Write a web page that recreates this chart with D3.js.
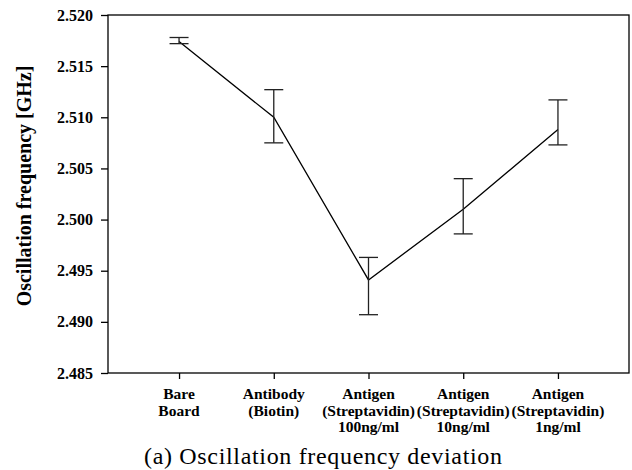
<!DOCTYPE html>
<html>
<head>
<meta charset="utf-8">
<script src="https://cdn.jsdelivr.net/npm/d3@7"></script>
<style>
html,body{margin:0;padding:0;background:#fff;}
svg{display:block;}
</style>
</head>
<body>
<svg id="chart" width="632" height="470"></svg>
<script>
// ---- data ----
const categories = [
  ["Bare", "Board"],
  ["Antibody", "(Biotin)"],
  ["Antigen", "(Streptavidin)", "100ng/ml"],
  ["Antigen", "(Streptavidin)", "10ng/ml"],
  ["Antigen", "(Streptavidin)", "1ng/ml"]
];
const means = [2.5174, 2.5100, 2.4941, 2.5010, 2.5088];
const upper = [2.5178, 2.5127, 2.4963, 2.5040, 2.5117];
const lower = [2.5172, 2.5075, 2.4907, 2.4986, 2.5073];
const yTicks = [2.485, 2.490, 2.495, 2.500, 2.505, 2.510, 2.515, 2.520];
const yTitle = "Oscillation frequency [GHz]";
const caption = "(a) Oscillation frequency deviation";

// ---- layout ----
const svg = d3.select("#chart");
const L = 108, R = 629, T = 15, B = 373;
const serif = "Liberation Serif";

const x = d3.scalePoint().domain(d3.range(categories.length)).range([L, R]).padding(0.75);
const y = d3.scaleLinear().domain([2.485, 2.520]).range([B, T]);

// frame
svg.append("rect").attr("x", L).attr("y", T).attr("width", R - L).attr("height", B - T)
  .attr("fill", "none").attr("stroke", "#000").attr("stroke-width", 1.3);

// y axis
const yAxis = svg.append("g").attr("transform", `translate(${L},0)`)
  .call(d3.axisLeft(y).tickValues(yTicks).tickFormat(d3.format(".3f")).tickSize(7).tickPadding(8));
yAxis.select(".domain").remove();
yAxis.selectAll(".tick line").attr("stroke", "#000").attr("stroke-width", 1.3);
yAxis.selectAll(".tick text").attr("font-family", serif).attr("font-weight", "bold")
  .attr("font-size", 16).attr("fill", "#000");

// x axis
const xAxis = svg.append("g").attr("transform", `translate(0,${B})`)
  .call(d3.axisBottom(x).tickSize(6).tickFormat(""));
xAxis.select(".domain").remove();
xAxis.selectAll(".tick line").attr("stroke", "#000").attr("stroke-width", 1.3);
xAxis.selectAll(".tick text").remove();

const labG = svg.append("g");
categories.forEach((lines, i) => {
  const t = labG.append("text").attr("text-anchor", "middle")
    .attr("font-family", serif).attr("font-weight", "bold").attr("font-size", 15.5).attr("fill", "#000");
  lines.forEach((s, j) => {
    t.append("tspan").attr("x", x(i)).attr("y", 399 + j * 16.5).text(s);
  });
});

// line
const line = d3.line().x((d, i) => x(i)).y(d => y(d));
svg.append("path").datum(means).attr("d", line)
  .attr("fill", "none").attr("stroke", "#000").attr("stroke-width", 1.3);

// error bars
const eb = svg.append("g").attr("stroke", "#222").attr("stroke-width", 1.3);
means.forEach((m, i) => {
  const cx = x(i);
  eb.append("line").attr("x1", cx).attr("x2", cx).attr("y1", y(upper[i])).attr("y2", y(lower[i]));
  eb.append("line").attr("x1", cx - 9.5).attr("x2", cx + 9.5).attr("y1", y(upper[i])).attr("y2", y(upper[i]));
  eb.append("line").attr("x1", cx - 9.5).attr("x2", cx + 9.5).attr("y1", y(lower[i])).attr("y2", y(lower[i]));
});

// y title
svg.append("text").attr("transform", `translate(31,${(T + B) / 2 - 8}) rotate(-90)`)
  .attr("text-anchor", "middle").attr("font-family", serif).attr("font-weight", "bold")
  .attr("font-size", 20).attr("fill", "#000").text(yTitle);

// caption
svg.append("text").attr("x", 144).attr("y", 464)
  .attr("font-family", serif).attr("font-size", 24).attr("fill", "#000")
  .attr("textLength", 358).attr("lengthAdjust", "spacing")
  .text(caption);
</script>
</body>
</html>
